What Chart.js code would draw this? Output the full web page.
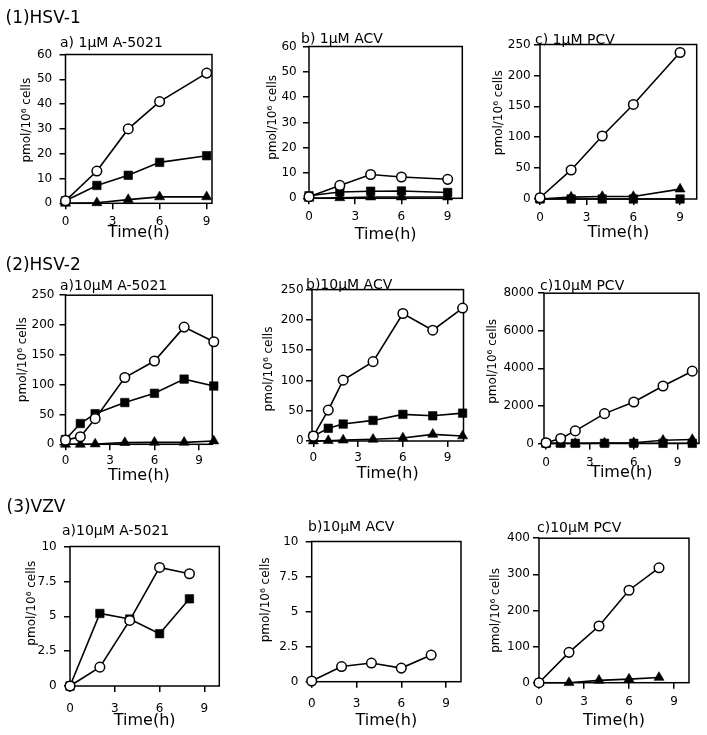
<!DOCTYPE html>
<html><head><meta charset="utf-8">
<script src="https://cdn.jsdelivr.net/npm/chart.js@4.4.1/dist/chart.umd.min.js"></script>
<style>
html,body{margin:0;padding:0;background:#fff;}
#fig{position:relative;width:707px;height:735px;overflow:hidden;background:#fff;font-family:"DejaVu Sans",sans-serif;color:#000;}
.lbl{position:absolute;white-space:nowrap;line-height:1;}
#fig canvas{position:absolute;}
</style></head><body><div id="fig"></div>
<script>
// ---------- DATA ----------
const xTickValues = [0, 3, 6, 9];
const yTicks60 = [0, 10, 20, 30, 40, 50, 60];
const yTicks250 = [0, 50, 100, 150, 200, 250];
const yTicks8000 = [0, 2000, 4000, 6000, 8000];
const yTicks10 = [0, 2.5, 5, 7.5, 10];
const yTicks400 = [0, 100, 200, 300, 400];

// (1) HSV-1
const timeHSV1 = [0, 2, 4, 6, 9];
const hsv1A5021Circle   = [1, 13, 30, 41, 52.5];
const hsv1A5021Square   = [1, 7.2, 11.3, 16.5, 19.2];
const hsv1A5021Triangle = [0, 0.2, 1.5, 2.6, 2.6];
const hsv1ACVCircle     = [0.6, 5.1, 9.4, 8.4, 7.5];
const hsv1ACVSquare     = [1, 2.5, 2.8, 2.9, 2.3];
const hsv1ACVTriangle   = [0, 0.2, 0.5, 0.5, 0.5];
const hsv1PCVCircle     = [2, 47, 102, 153, 237];
const hsv1PCVSquare     = [0, 0, 0, 0, 0];
const hsv1PCVTriangle   = [0, 3, 4, 4, 16];

// (2) HSV-2
const timeHSV2 = [0, 1, 2, 4, 6, 8, 10];
const hsv2A5021Circle   = [7, 12.7, 43, 112, 139.6, 196.5, 172];
const hsv2A5021Square   = [8, 34.8, 51.3, 70, 85.5, 109.3, 97.7];
const hsv2A5021Triangle = [0, 0, 0.5, 2.8, 3.3, 3.3, 5.5];
const hsv2ACVCircle     = [8, 51, 100.5, 131, 210.5, 183, 219.5];
const hsv2ACVSquare     = [8, 21, 28, 34, 44, 41.6, 46];
const hsv2ACVTriangle   = [0, 0.5, 1.5, 2.8, 5, 11, 8.3];
const hsv2PCVCircle     = [40, 270, 670, 1590, 2210, 3060, 3850];
const hsv2PCVSquare     = [10, 10, 10, 10, 10, 10, 10];
const hsv2PCVTriangle   = [0, 0, 0, 20, 40, 170, 210];

// (3) VZV
const timeVZV = [0, 2, 4, 6, 8];
const vzvA5021Circle    = [0, 1.35, 4.7, 8.5, 8.05];
const vzvA5021Square    = [0, 5.2, 4.8, 3.75, 6.25];
const vzvACVCircle      = [0.05, 1.08, 1.33, 0.97, 1.9];
const vzvPCVCircle      = [0, 84, 157, 256, 318];
const vzvPCVTriangle    = [0, 0, 6.5, 10, 14.5];

const rowLabels = ['(1)HSV-1', '(2)HSV-2', '(3)VZV'];
const xAxisLabel = 'Time(h)';
const yAxisLabel = 'pmol/10\u2076 cells';

// ---------- LAYOUT / STYLE ----------
const FONT = '"DejaVu Sans", sans-serif';
const panels = [
  {title:'a) 1\u00b5M A-5021', time:timeHSV1, series:{circle:hsv1A5021Circle, square:hsv1A5021Square, triangle:hsv1A5021Triangle}, yTicks:yTicks60, xMin:0, xMax:9.34,
   box:[65.5,50,212,203.3], yTitleGap:38.8, yTitleShift:8.7, xTitleGap:28.7, xPad:5.8, yPad:7.3, tPos:[60,34.9]},
  {title:'b) 1\u00b5M ACV', time:timeHSV1, series:{circle:hsv1ACVCircle, square:hsv1ACVSquare, triangle:hsv1ACVTriangle}, yTicks:yTicks60, xMin:0, xMax:9.95,
   box:[309,43.3,462.3,198.3], yTitleGap:35.7, yTitleShift:5, xTitleGap:35.7, xPad:5.2, yPad:6.3, tPos:[301,30.5]},
  {title:'c) 1\u00b5M PCV', time:timeHSV1, series:{circle:hsv1PCVCircle, square:hsv1PCVSquare, triangle:hsv1PCVTriangle}, yTicks:yTicks250, xMin:0, xMax:10.07,
   box:[540,44.3,696.7,199], yTitleGap:41, yTitleShift:9, xTitleGap:33.3, xPad:6.1, yPad:3.3, tPos:[535,31.5]},
  {title:'a)10\u00b5M A-5021', time:timeHSV2, series:{circle:hsv2A5021Circle, square:hsv2A5021Square, triangle:hsv2A5021Triangle}, yTicks:yTicks250, xMin:0, xMax:9.9,
   box:[65.5,293.3,212.3,444.3], yTitleGap:42.3, yTitleShift:10, xTitleGap:31, xPad:3.5, yPad:5, tPos:[60,278.2]},
  {title:'b)10\u00b5M ACV', time:timeHSV2, series:{circle:hsv2ACVCircle, square:hsv2ACVSquare, triangle:hsv2ACVTriangle}, yTicks:yTicks250, xMin:-0.09, xMax:10.06,
   box:[312,289.5,463.5,441], yTitleGap:43.3, yTitleShift:-3.7, xTitleGap:32, xPad:4.1, yPad:2.4, tPos:[306,276.5]},
  {title:'c)10\u00b5M PCV', time:timeHSV2, series:{circle:hsv2PCVCircle, square:hsv2PCVSquare, triangle:hsv2PCVTriangle}, yTicks:yTicks8000, xMin:-0.14, xMax:10.46,
   box:[544,292,699,443.5], yTitleGap:50.8, yTitleShift:7, xTitleGap:29, xPad:5.8, yPad:4, tPos:[540,278.2]},
  {title:'a)10\u00b5M A-5021', time:timeVZV, series:{circle:vzvA5021Circle, square:vzvA5021Square}, yTicks:yTicks10, xMin:0, xMax:10,
   box:[70,541.7,219.3,686], yTitleGap:38.5, yTitleShift:13, xTitleGap:34.7, xPad:9.8, yPad:7.3, tPos:[62,523.2]},
  {title:'b)10\u00b5M ACV', time:timeVZV, series:{circle:vzvACVCircle}, yTicks:yTicks10, xMin:0, xMax:10,
   box:[311.7,536.7,461,681.7], yTitleGap:46, yTitleShift:11.7, xTitleGap:39, xPad:9.1, yPad:7.3, tPos:[308,518.9]},
  {title:'c)10\u00b5M PCV', time:timeVZV, series:{circle:vzvPCVCircle, triangle:vzvPCVTriangle}, yTicks:yTicks400, xMin:0, xMax:10,
   box:[539,537.7,689,682.7], yTitleGap:43.3, yTitleShift:0, xTitleGap:38, xPad:6.4, yPad:3, tPos:[537,519.9]}
];
const rowLabelPos = [[5.5,8.9],[5.5,256.3],[6.5,498.3]];

const markerStyle = {
  circle:   {pointStyle:'circle',   pointRadius:4.8, pointBackgroundColor:'#fff', pointBorderWidth:1.5},
  square:   {pointStyle:'rect',     pointRadius:6.0, pointBackgroundColor:'#000', pointBorderWidth:0.6},
  triangle: {pointStyle:'triangle', pointRadius:5.8, pointBackgroundColor:'#000', pointBorderWidth:0.6}
};

const frameBox = {
  id:'frameBox',
  beforeDatasetsDraw(chart){
    const {ctx, chartArea:a} = chart;
    ctx.save();
    ctx.strokeStyle = '#000';
    ctx.lineWidth = 1.5;
    ctx.strokeRect(a.left, a.top, a.right - a.left, a.bottom - a.top);
    ctx.restore();
  }
};

const yTitlePlugin = {
  id:'yTitlePlugin',
  afterDraw(chart, args, opts){
    const {ctx, chartArea:a} = chart;
    ctx.save();
    ctx.translate(a.left - opts.gap, (a.top + a.bottom) / 2 - opts.shift);
    ctx.rotate(-Math.PI / 2);
    ctx.fillStyle = '#000';
    ctx.font = '12px ' + FONT;
    ctx.textAlign = 'center';
    ctx.textBaseline = 'middle';
    ctx.fillText(opts.text, 0, 0);
    ctx.restore();
  }
};

const fig = document.getElementById('fig');

function addLabel(text, x, y, size){
  const d = document.createElement('div');
  d.className = 'lbl';
  d.textContent = text;
  d.style.left = x + 'px';
  d.style.top = y + 'px';
  d.style.fontSize = size + 'px';
  fig.appendChild(d);
}

function makePanel(p){
  const [l, t, r, b] = p.box;
  const L0 = p.yTitleGap + 7.2, T0 = 10, R0 = 8, B0 = p.xTitleGap + 9.6;
  const cl = Math.round(l - L0), ct = Math.round(t - T0);
  const w = Math.round(r - cl + R0), h = Math.round(b - ct + B0);
  const L = l - cl, T = t - ct, R = w - (r - cl), B = h - (b - ct);
  const cv = document.createElement('canvas');
  cv.width = w; cv.height = h;
  cv.style.left = cl + 'px'; cv.style.top = ct + 'px';
  cv.style.width = w + 'px'; cv.style.height = h + 'px';
  fig.appendChild(cv);

  const datasets = Object.keys(p.series).map(k => Object.assign({
    data: p.time.map((tv, i) => ({x: tv, y: p.series[k][i]})),
    borderColor:'#000', borderWidth:1.6, pointBorderColor:'#000',
    tension:0, clip:false, fill:false
  }, markerStyle[k]));

  const yMax = p.yTicks[p.yTicks.length - 1];
  new Chart(cv, {
    type:'line',
    data:{datasets},
    plugins:[frameBox, yTitlePlugin],
    options:{
      responsive:false, animation:false, devicePixelRatio:1,
      layout:{padding:{top:T, right:R, left:0, bottom:0}},
      plugins:{legend:{display:false}, tooltip:{enabled:false}, title:{display:false},
        yTitlePlugin:{text:yAxisLabel, gap:p.yTitleGap, shift:p.yTitleShift}},
      scales:{
        x:{
          type:'linear', min:p.xMin, max:p.xMax,
          afterBuildTicks: s => { s.ticks = xTickValues.map(v => ({value:v})); },
          afterFit: s => { s.height = B; },
          grid:{display:true, drawOnChartArea:false, drawTicks:true, tickLength:6, color:'#000', lineWidth:1.5},
          border:{display:false},
          ticks:{color:'#000', font:{family:FONT, size:12}, padding:p.xPad, maxRotation:0, autoSkip:false, callback:v => String(v)},
          title:{display:true, text:xAxisLabel, color:'#000', font:{family:FONT, size:16}, padding:0}
        },
        y:{
          type:'linear', min:0, max:yMax,
          afterBuildTicks: s => { s.ticks = p.yTicks.map(v => ({value:v})); },
          afterFit: s => { s.width = L; },
          grid:{display:true, drawOnChartArea:false, drawTicks:true, tickLength:6, color:'#000', lineWidth:1.5},
          border:{display:false},
          ticks:{color:'#000', font:{family:FONT, size:12}, padding:p.yPad, autoSkip:false, callback:v => String(v)},
          title:{display:false}
        }
      }
    }
  });
  addLabel(p.title, p.tPos[0], p.tPos[1], 14);
}

panels.forEach(makePanel);
rowLabels.forEach((t, i) => addLabel(t, rowLabelPos[i][0], rowLabelPos[i][1], 17));
</script>
</body></html>
